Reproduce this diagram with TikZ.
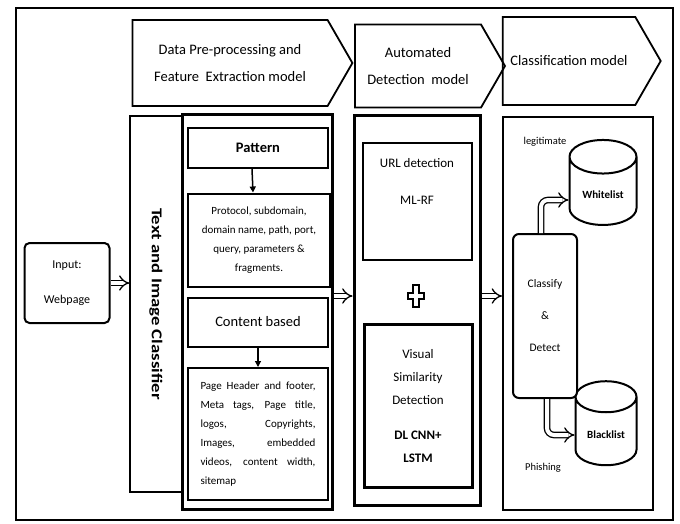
\documentclass[tikz,border=0pt]{standalone}
\usepackage{fontspec}
\setmainfont{Carlito}
\usetikzlibrary{positioning,arrows.meta,shapes.geometric,shapes.symbols}

\begin{document}
\begin{tikzpicture}[x=1pt,y=-1pt,>={Triangle[length=6pt,width=6pt]},
  box/.style={draw,line width=2pt,align=center,inner sep=2pt},
  stage/.style={draw,line width=1.8pt,signal,signal to=east,signal pointer angle=120,align=center,font=\fontsize{14.5}{27}\selectfont},
  hollow/.style={double,double distance=4pt,line width=1.3pt,-{Implies}},
  db/.style={draw,line width=2pt,cylinder,shape border rotate=90,aspect=0.7,font=\fontsize{11}{13}\selectfont\bfseries},
  note/.style={font=\fontsize{10.5}{12}\selectfont}]
\useasboundingbox (0,0) rectangle (680,523);
\draw[line width=1.2pt] (16,8) rectangle (673,520);

\node[stage,minimum width=220,minimum height=86] (h1) at (230,63) {Data Pre-processing and\\Feature\ \ Extraction model};
\node[stage,minimum width=150,minimum height=83] (h2) at (418,66) {Automated\\Detection\ \ model};
\node[stage,minimum width=158,minimum height=88] (h3) at (569,61) {Classification model};

\node[draw,rounded corners=5pt,line width=2pt,minimum width=85,minimum height=80,align=center,font=\fontsize{12}{35}\selectfont] (inp) at (67,283) {Input:\\Webpage};
\node[draw,line width=1.2pt,minimum width=52,minimum height=376] (tic) at (156,304) {};
\node[rotate=-90,xscale=1.25,font=\fontsize{15}{17}\selectfont\bfseries] at (tic.center) {Text and Image Classifier};

\node[draw,line width=3pt,minimum width=150,minimum height=395] (pre) at (257,312) {};
\node[box,minimum width=140,minimum height=40,font=\fontsize{14.5}{17}\selectfont\bfseries] (pat) at (258,148) {Pattern};
\node[box,minimum width=142,minimum height=93,font=\fontsize{11}{19}\selectfont] (prot) at (259,240) {Protocol, subdomain,\\domain name, path, port,\\query, parameters \&\\fragments.};
\node[box,minimum width=140,minimum height=49,font=\fontsize{14.5}{17}\selectfont] (cont) at (258,322) {Content based};
\node[box,minimum width=140,minimum height=132,text width=115,align=justify,font=\fontsize{11}{19}\selectfont] (page) at (258,434) {Page Header and footer,\linebreak Meta tags, Page title,\linebreak logos, Copyrights,\linebreak Images, embedded\linebreak videos, content width,\linebreak sitemap};
\draw[line width=1.5pt,->] ([xshift=-6pt]pat.south) -- ([xshift=-6pt]prot.north);
\draw[line width=1.2pt,->] (cont) -- (page);

\node[draw,line width=3pt,minimum width=126,minimum height=390] (det) at (417,310) {};
\node[box,minimum width=109,minimum height=117] (url) at (417,201) {};
\node[align=center,font=\fontsize{13}{37}\selectfont] at (417,181) {URL detection\\ML-RF};
\coordinate (plus) at (416,296);
\draw[line width=1.8pt,fill=white,shift={(plus)}] (-3,-11) -- (3,-11) -- (3,-3) -- (8,-3) -- (8,3) -- (3,3) -- (3,11) -- (-3,11) -- (-3,3) -- (-8,3) -- (-8,-3) -- (-3,-3) -- cycle;
\node[box,line width=3pt,minimum width=108,minimum height=163,font=\fontsize{13}{23}\selectfont] (vis) at (418,406) {Visual\\Similarity\\Detection\\[12pt]\textbf{DL CNN+}\\\textbf{LSTM}};

\node[draw,line width=2pt,minimum width=150,minimum height=393] (cls) at (578,313) {};
\node[db,minimum width=67,minimum height=85] (wl) at (603,195) {Whitelist};
\node[db,minimum width=61,minimum height=84] (bl) at (606,435) {Blacklist};
\node[draw,fill=white,rounded corners=6pt,line width=2pt,minimum width=64,minimum height=164,align=center,font=\fontsize{11.5}{32}\selectfont] (cd) at (545,316) {Classify\\\&\\Detect};
\node[note] at (545,142) {legitimate};
\node[note] at (543,468) {Phishing};
\draw[hollow,rounded corners=7pt] ([xshift=-4pt]cd.north) |- ([yshift=-5pt]wl.west);
\draw[hollow,rounded corners=7pt] ([xshift=2pt]cd.south) |- (bl.west);

\draw[hollow] (inp.east) -- (inp.east -| tic.west);
\draw[hollow] (pre.east |- plus) -- (det.west |- plus);
\draw[hollow] (det.east |- plus) -- (cls.west |- plus);
\end{tikzpicture}
\end{document}
